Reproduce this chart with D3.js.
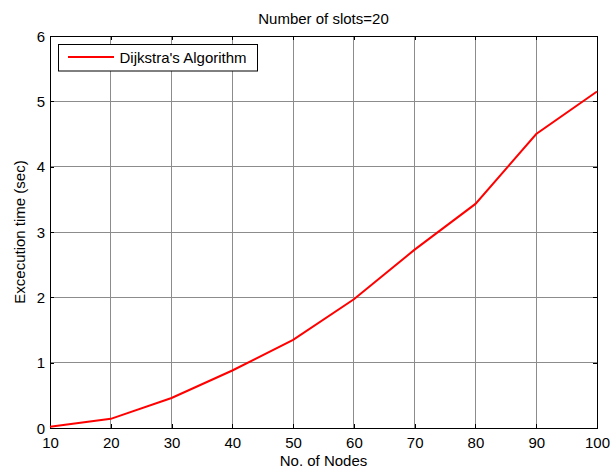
<!DOCTYPE html>
<html><head><meta charset="utf-8">
<script src="https://cdn.jsdelivr.net/npm/d3@7"></script>
<style>body{margin:0;background:#fff}svg{display:block}text{font-family:"Liberation Sans",Arial,sans-serif;fill:#000}</style>
</head><body><svg id="c" width="612" height="472"></svg>
<script>
const nodes = [10,20,30,40,50,60,70,80,90,100];
const execTime = [0.02,0.14,0.46,0.88,1.35,1.97,2.73,3.43,4.5,5.15];
const xTicks = [10,20,30,40,50,60,70,80,90,100];
const yTicks = [0,1,2,3,4,5,6];
const seriesName = "Dijkstra's Algorithm";
const titleText = "Number of slots=20";
const xLabel = "No. of Nodes";
const yLabel = "Excecution time (sec)";

const svg = d3.select("#c");
const L=50,R=597,T=36,B=428;
const FS = "15px";
const x = d3.scaleLinear().domain([10,100]).range([L,R]);
const y = d3.scaleLinear().domain([0,6]).range([B,T]);

// grid
svg.append("g").selectAll("line").data(xTicks.slice(1,-1)).join("line")
  .attr("x1",d=>x(d)).attr("x2",d=>x(d)).attr("y1",T).attr("y2",B)
  .attr("stroke","#8c8c8c").attr("stroke-width",1).attr("shape-rendering","crispEdges");
svg.append("g").selectAll("line").data(yTicks.slice(1,-1)).join("line")
  .attr("y1",d=>y(d)).attr("y2",d=>y(d)).attr("x1",L).attr("x2",R)
  .attr("stroke","#8c8c8c").attr("stroke-width",1).attr("shape-rendering","crispEdges");

// axes with inward ticks
const bx = svg.append("g").attr("transform",`translate(0,${B})`)
  .call(d3.axisBottom(x).tickValues(xTicks).tickSizeInner(-4).tickSizeOuter(0).tickFormat(d3.format("d")));
const tx = svg.append("g").attr("transform",`translate(0,${T})`)
  .call(d3.axisTop(x).tickValues(xTicks).tickSizeInner(-4).tickSizeOuter(0).tickFormat(""));
const ly = svg.append("g").attr("transform",`translate(${L},0)`)
  .call(d3.axisLeft(y).tickValues(yTicks).tickSizeInner(-4).tickSizeOuter(0).tickFormat(d3.format("d")));
const ry = svg.append("g").attr("transform",`translate(${R},0)`)
  .call(d3.axisRight(y).tickValues(yTicks).tickSizeInner(-4).tickSizeOuter(0).tickFormat(""));
[bx,tx,ly,ry].forEach(g=>{
  g.select(".domain").remove();
  g.selectAll("line").attr("stroke","#000").attr("shape-rendering","crispEdges");
  g.selectAll("text").style("font-size",FS).style("font-family","'Liberation Sans',Arial,sans-serif").attr("fill","#000");
});
bx.selectAll("text").attr("y",20).attr("dy",null);
ly.selectAll("text").attr("x",-5).attr("dy","0.35em");

// frame
svg.append("rect").attr("x",L).attr("y",T).attr("width",R-L).attr("height",B-T)
  .attr("fill","none").attr("stroke","#000").attr("stroke-width",1).attr("shape-rendering","crispEdges");

// line
svg.append("path").datum(nodes.map((n,i)=>[n,execTime[i]]))
  .attr("fill","none").attr("stroke","#ff0000").attr("stroke-width",2)
  .attr("d",d3.line().x(d=>x(d[0])).y(d=>y(d[1])));

// legend
const lg = svg.append("g");
lg.append("rect").attr("x",58.5).attr("y",44.5).attr("width",199).attr("height",26.5)
  .attr("fill","#fff").attr("stroke","#000").attr("stroke-width",1);
lg.append("line").attr("x1",68).attr("x2",114).attr("y1",57).attr("y2",57)
  .attr("stroke","#ff0000").attr("stroke-width",2);
lg.append("text").attr("x",119.5).attr("y",63).style("font-size",FS).text(seriesName);

// titles
svg.append("text").attr("x",(L+R)/2).attr("y",24).attr("text-anchor","middle").style("font-size",FS).text(titleText);
svg.append("text").attr("x",(L+R)/2).attr("y",466).attr("text-anchor","middle").style("font-size",FS).text(xLabel);
svg.append("text").attr("transform",`translate(25,${(T+B)/2}) rotate(-90)`).attr("text-anchor","middle").style("font-size",FS).text(yLabel);
</script></body></html>
